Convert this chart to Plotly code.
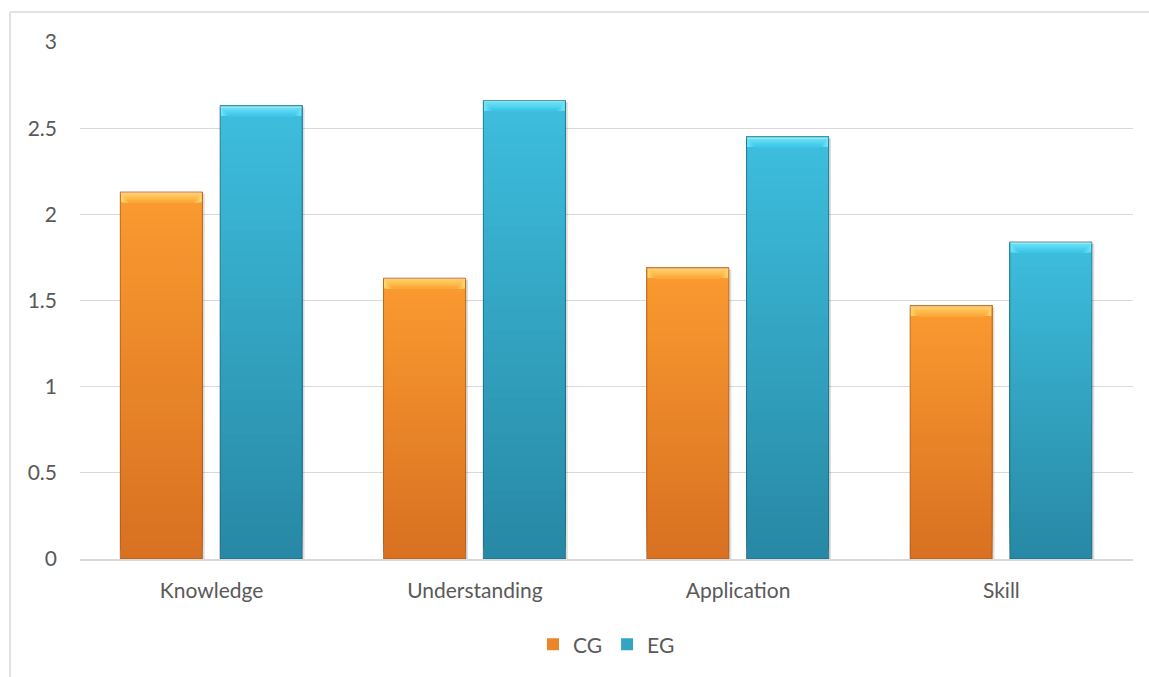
import plotly.graph_objects as go

# Mean scores per dimension for the control (CG) and experimental (EG) groups
categories = ["Knowledge", "Understanding", "Application", "Skill"]
cg_values = [2.13, 1.63, 1.69, 1.47]
eg_values = [2.63, 2.66, 2.45, 1.84]
y_ticks = [0, 0.5, 1, 1.5, 2, 2.5, 3]

W, H = 1149, 677
ML, MR, MT, MB = 80, 16, 42, 116
FONT = "Lato"
TXT = "#595959"
GRID = "#D9D9D9"

BAR_W = 0.312       # bar width in category units
CG_OFF = -0.347     # left edge of CG bar relative to category centre
EG_OFF = 0.032      # left edge of EG bar relative to category centre
N_SLICES = 40       # vertical gradient resolution
BEVEL_H = 0.06      # bevel height (value units)
BEVEL_IN = 0.034    # bevel inset at its lower edge (category units)
BEVEL_STEPS = 10


def lerp(c1, c2, t):
    return "rgb({},{},{})".format(*[round(a + (b - a) * t) for a, b in zip(c1, c2)])


series = [
    dict(name="CG", values=cg_values, off=CG_OFF,
         top=(251, 155, 48), bottom=(216, 112, 33),
         side=(228, 124, 36), rim=(255, 200, 125),
         bev_top=(255, 216, 112), bev_bot=(252, 168, 54),
         edge="rgba(140,70,15,0.55)"),
    dict(name="EG", values=eg_values, off=EG_OFF,
         top=(62, 190, 222), bottom=(39, 136, 164),
         side=(44, 156, 188), rim=(150, 230, 245),
         bev_top=(112, 230, 248), bev_bot=(62, 198, 232),
         edge="rgba(20,75,95,0.55)"),
]

fig = go.Figure()

# soft drop shadow behind each bar
for s in series:
    fig.add_trace(go.Bar(
        x=categories, y=[v - 0.01 for v in s["values"]], base=[0] * len(s["values"]),
        width=BAR_W, offset=s["off"] + 0.009,
        marker=dict(color="rgba(0,0,0,0.13)", line=dict(width=0)),
        showlegend=False, hoverinfo="skip",
    ))

for s in series:
    vals = s["values"]
    # gradient body: each slice runs from its base to the bar top, so later
    # (lighter) slices cover the upper part of earlier ones without seams
    for k in range(N_SLICES):
        t = (k + 0.5) / N_SLICES
        fig.add_trace(go.Bar(
            x=categories,
            y=[v * (1 - k / N_SLICES) for v in vals],
            base=[v * k / N_SLICES for v in vals],
            width=BAR_W, offset=s["off"],
            marker=dict(color=lerp(s["bottom"], s["top"], t), line=dict(width=0)),
            name=s["name"], legendgroup=s["name"],
            showlegend=(k == N_SLICES // 2),
            hoverinfo="skip",
        ))
    # bevel side faces
    fig.add_trace(go.Bar(
        x=categories, y=[BEVEL_H for _ in vals], base=[v - BEVEL_H for v in vals],
        width=BAR_W, offset=s["off"],
        marker=dict(color=lerp(s["side"], s["side"], 0), line=dict(width=0)),
        showlegend=False, hoverinfo="skip",
    ))
    # bevelled top face: stacked bands getting narrower downward
    for j in range(BEVEL_STEPS):
        t = j / (BEVEL_STEPS - 1)
        h = BEVEL_H / BEVEL_STEPS
        inset = BEVEL_IN * (j + 0.5) / BEVEL_STEPS
        fig.add_trace(go.Bar(
            x=categories,
            y=[BEVEL_H - j * h for _ in vals],
            base=[v - BEVEL_H for v in vals],
            width=BAR_W - 2 * inset, offset=s["off"] + inset,
            marker=dict(color=lerp(s["bev_top"], s["bev_bot"], t), line=dict(width=0)),
            showlegend=False, hoverinfo="skip",
        ))
    # light rim along the top edge
    fig.add_trace(go.Bar(
        x=categories, y=[0.008 for _ in vals], base=[v - 0.008 for v in vals],
        width=BAR_W, offset=s["off"],
        marker=dict(color=lerp(s["rim"], s["rim"], 0), line=dict(width=0)),
        showlegend=False, hoverinfo="skip",
    ))
    # thin darker edge around each bar
    fig.add_trace(go.Bar(
        x=categories, y=vals, base=[0] * len(vals),
        width=BAR_W, offset=s["off"],
        marker=dict(color="rgba(0,0,0,0)", line=dict(color=s["edge"], width=1)),
        showlegend=False, hovertemplate=s["name"] + " %{x}: %{y}<extra></extra>",
    ))

pw = W - ML - MR
ph = H - MT - MB
# chart frame (left and top edges visible)
fx0 = (10 - ML) / pw
fy1 = 1 + (MT - 12) / ph
fig.add_shape(type="line", xref="paper", yref="paper", x0=fx0, x1=fx0, y0=-MB / ph - 0.01, y1=fy1,
              line=dict(color=GRID, width=1.5))
fig.add_shape(type="line", xref="paper", yref="paper", x0=fx0, x1=1 + MR / ph + 0.05, y0=fy1, y1=fy1,
              line=dict(color=GRID, width=1.5))

fig.update_layout(
    width=W, height=H,
    margin=dict(l=ML, r=MR, t=MT, b=MB),
    paper_bgcolor="white", plot_bgcolor="white",
    barmode="overlay",
    font=dict(family=FONT, size=21, color=TXT),
    xaxis=dict(
        categoryorder="array", categoryarray=categories,
        range=[-0.5, 3.5], showgrid=False,
        showline=True, linecolor=GRID, linewidth=1.5,
        ticks="", tickfont=dict(size=21, color=TXT),
        ticklabelstandoff=12,
    ),
    yaxis=dict(
        range=[0, 3], tickvals=y_ticks, ticktext=[f"{v:g}" for v in y_ticks],
        showgrid=True, gridcolor=GRID, gridwidth=1.2,
        zeroline=False, showline=False, ticks="",
        ticklabelstandoff=22, tickfont=dict(size=21, color=TXT),
    ),
    legend=dict(
        orientation="h", x=0.5, xanchor="center", y=-(647 - 561) / ph, yanchor="middle",
        font=dict(size=21, color=TXT), itemwidth=30, traceorder="normal",
        bgcolor="rgba(0,0,0,0)",
    ),
)

fig.write_html("out.html")
